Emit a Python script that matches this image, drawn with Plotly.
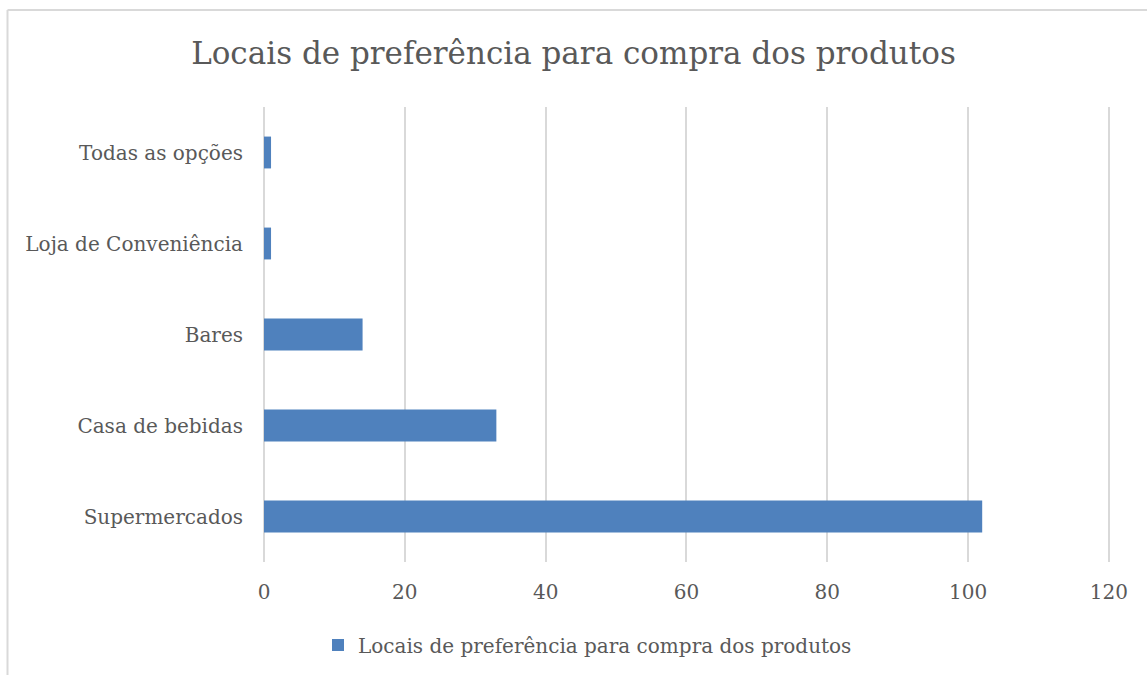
import plotly.graph_objects as go

# Preferred purchase locations (bottom to top)
categories = ["Supermercados", "Casa de bebidas", "Bares", "Loja de Conveniência", "Todas as opções"]
values = [102, 33, 14, 1, 1]
series_name = "Locais de preferência para compra dos produtos"
title_text = "Locais de preferência para compra dos produtos"
x_ticks = [0, 20, 40, 60, 80, 100, 120]

FONT = "DejaVu Serif"
TEXT = "#595959"
GRID = "#d9d9d9"

fig = go.Figure(
    go.Bar(
        y=categories,
        x=values,
        orientation="h",
        name=series_name,
        marker=dict(color="#4f81bd", line=dict(width=0)),
        showlegend=True,
    )
)

fig.update_layout(
    width=1147,
    height=675,
    margin=dict(l=264, r=37, t=107, b=113),
    paper_bgcolor="white",
    plot_bgcolor="white",
    bargap=0.65,
    font=dict(family=FONT, color=TEXT, size=20),
    title=dict(
        text=title_text,
        x=0.5,
        xref="container",
        xanchor="center",
        y=1 - 53 / 675,
        yref="container",
        yanchor="middle",
        font=dict(family=FONT, size=31, color=TEXT),
    ),
    showlegend=True,
    legend=dict(
        orientation="h",
        xref="container",
        yref="container",
        x=318 / 1147,
        xanchor="left",
        y=1 - 645 / 675,
        yanchor="middle",
        font=dict(family=FONT, size=20, color=TEXT),
        itemwidth=30,
    ),
    xaxis=dict(
        range=[0, 120.15],
        tickvals=x_ticks,
        showgrid=True,
        gridcolor=GRID,
        gridwidth=1.5,
        zeroline=True,
        zerolinecolor=GRID,
        zerolinewidth=1.5,
        showline=False,
        ticks="",
        ticklabelstandoff=16,
        tickfont=dict(family=FONT, size=20, color=TEXT),
        fixedrange=True,
    ),
    yaxis=dict(
        categoryorder="array",
        categoryarray=categories,
        showgrid=False,
        zeroline=False,
        showline=False,
        ticks="",
        ticklabelstandoff=20,
        tickfont=dict(family=FONT, size=20, color=TEXT),
        fixedrange=True,
    ),
    shapes=[
        # chart frame: top and left edges
        dict(type="line", xref="paper", yref="paper",
             x0=(7.5 - 264) / 846, x1=(1147 - 264) / 846,
             y0=(562 - 10) / 455, y1=(562 - 10) / 455,
             line=dict(color=GRID, width=2)),
        dict(type="line", xref="paper", yref="paper",
             x0=(7.5 - 264) / 846, x1=(7.5 - 264) / 846,
             y0=(562 - 10) / 455, y1=(562 - 675) / 455,
             line=dict(color=GRID, width=2)),
    ],
)

fig.write_html("out.html")
